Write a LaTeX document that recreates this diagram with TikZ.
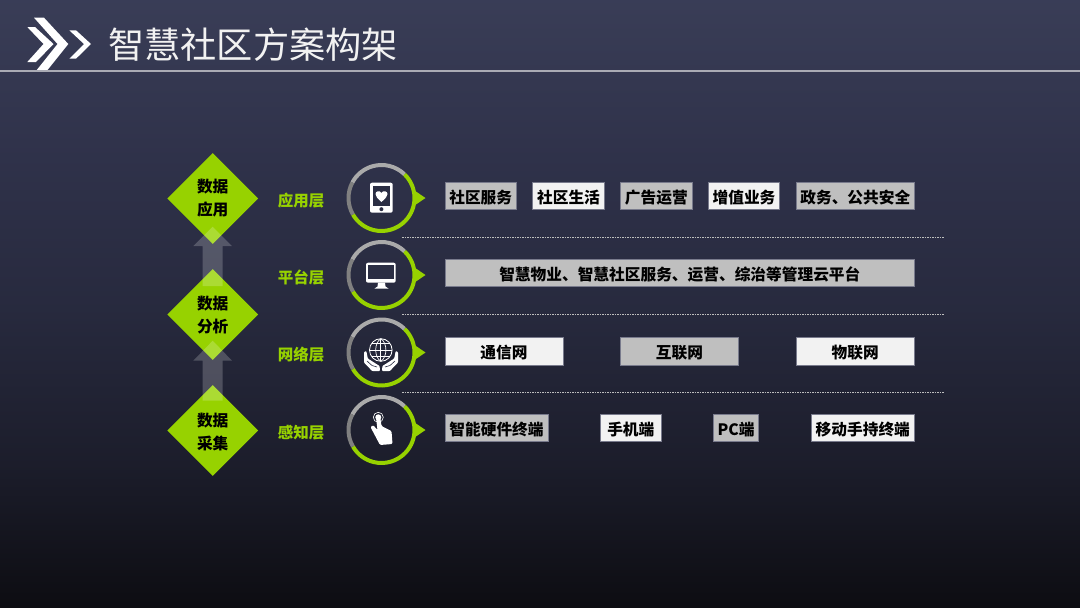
\documentclass[tikz,border=0pt]{standalone}
\usepackage{fontspec}
\setmainfont{Noto Sans CJK SC}
\usetikzlibrary{shapes.geometric}
\definecolor{limegreen}{RGB}{151,210,0}
\definecolor{boxgray}{RGB}{191,191,191}
\definecolor{boxwhite}{RGB}{242,242,242}
\definecolor{boxedge}{RGB}{120,122,140}
\definecolor{ringlight}{RGB}{170,170,170}
\definecolor{ringdark}{RGB}{128,128,128}
\definecolor{panel}{RGB}{43,46,68}
\pgfdeclareverticalshading{slidebg}{100bp}{
  rgb(0bp)=(0.05,0.05,0.07); rgb(25bp)=(0.05,0.05,0.07);
  rgb(37bp)=(0.11,0.115,0.17); rgb(50bp)=(0.155,0.165,0.245);
  rgb(62bp)=(0.185,0.195,0.29); rgb(75bp)=(0.225,0.24,0.34); rgb(100bp)=(0.225,0.24,0.34)}
\newcommand{\ringparts}[1]{
  \draw[ringpart, limegreen] (#1.46) arc[start angle=46, end angle=-150, radius=33pt];
  \draw[ringpart, ringlight] (#1.46) arc[start angle=46, end angle=152, radius=33pt];
  \draw[ringpart, ringdark] (#1.152) arc[start angle=152, end angle=210, radius=33pt];
  \fill[limegreen] ([yshift=7.5pt]#1.east) -- ([xshift=11pt]#1.east) -- ([yshift=-7.5pt]#1.east) -- cycle;
}
\begin{document}
\begin{tikzpicture}[x=1pt, y=-1pt,
  ringpart/.style={line width=4pt},
  ringbase/.style={circle, minimum size=66pt, inner sep=0pt, outer sep=0pt},
  datadiamond/.style={diamond, fill=limegreen, minimum width=91pt, minimum height=91pt, inner sep=0pt},
  datatext/.style={align=center, inner sep=0pt, text=black, font={\fontsize{15.7pt}{23pt}\selectfont\bfseries}},
  layername/.style={font={\fontsize{15.5pt}{18pt}\selectfont\bfseries}, text=limegreen},
  itembox/.style={draw=boxedge, line width=.6pt, minimum height=27.5pt, inner sep=0pt, text=black,
    text height=15pt, text depth=0pt, font={\fontsize{15.7pt}{18pt}\selectfont\bfseries}},
  graybox/.style={itembox, fill=boxgray},
  whitebox/.style={itembox, fill=boxwhite},
  divider/.style={draw=white!75!black, line width=.7pt, dash pattern=on 1.5pt off 1pt},
  uparrow/.style={fill=white, fill opacity=.2}]
\useasboundingbox (0,0) rectangle (1080,608);
\path[shading=slidebg] (0,0) rectangle (1080,608);

% header
\fill[white] (34,17.7) -- (44,17.7) -- (68.3,44) -- (46.7,71) -- (36,71) -- (57.5,44) -- cycle;
\fill[white] (27.3,27) -- (35,27) -- (53.5,44) -- (36,62) -- (27.3,62) -- (43.5,44) -- cycle;
\fill[white] (69.3,30.3) -- (76,30.3) -- (91,44) -- (76,58.7) -- (69.3,58.7) -- (84,44) -- cycle;
\draw[draw=white!60!panel, line width=1.3pt] (0,71) -- (1080,71);
\node[anchor=west, inner sep=0pt, text=white!95!black, font={\fontsize{36.2pt}{40pt}\selectfont}] (title) at (108,45) {智慧社区方案构架};

% data flow
\node[datadiamond] (apply) at (212.7,198.5) {};
\node[datadiamond] (analyse) at (212.7,314.5) {};
\node[datadiamond] (collect) at (212.7,430.5) {};
\node[datatext] (applytext) at (212.7,197.7) {数据\\应用};
\node[datatext] (analysetext) at (212.7,315) {数据\\分析};
\node[datatext] (collecttext) at (212.7,432.3) {数据\\采集};
\fill[uparrow] (212.7,226.7) -- (232,246) -- (222.7,246) -- (222.7,286) -- (202.7,286) -- (202.7,246) -- (193.3,246) -- cycle;
\fill[uparrow] (212.7,340.7) -- (232,360.7) -- (222.7,360.7) -- (222.7,400.7) -- (202.7,400.7) -- (202.7,360.7) -- (193.3,360.7) -- cycle;

% layers
\node[layername] (applylayer) at (301,200.2) {应用层};
\node[layername] (platformlayer) at (301,277.2) {平台层};
\node[layername] (networklayer) at (301,355) {网络层};
\node[layername] (sensinglayer) at (301,432.2) {感知层};
\node[ringbase] (ringapply) at (381.5,198) {};
\node[ringbase] (ringplatform) at (381.5,275) {};
\node[ringbase] (ringnetwork) at (381.5,352.5) {};
\node[ringbase] (ringsensing) at (381.5,430) {};
\ringparts{ringapply}
\ringparts{ringplatform}
\ringparts{ringnetwork}
\ringparts{ringsensing}

% phone icon
\fill[white, rounded corners=2pt] (370,182.7) rectangle (392.7,212.7);
\fill[panel] (373,186) rectangle (390,205.5);
\fill[panel] (381.4,209.2) circle (2pt);
\fill[white] (381.4,202) .. controls (377,198) and (375.5,196) .. (375.5,194) .. controls (375.5,191) and (380,190) .. (381.4,193) .. controls (383,190) and (387.5,191) .. (387.5,194) .. controls (387.5,196) and (386,198) .. (381.4,202) -- cycle;

% monitor icon
\fill[white, rounded corners=2pt] (366,262.7) rectangle (395.7,282.7);
\fill[panel] (368.2,265) rectangle (393.5,278.5);
\fill[white] (378,282.7) -- (385,282.7) -- (385.5,286.5) -- (388.5,288.5) -- (374.5,288.5) -- (377.5,286.5) -- cycle;

% globe and hands icon
\draw[white, line width=.8pt] (380.8,350) circle (11.3pt);
\draw[white, line width=.7pt] (380.8,338.7) -- (380.8,361.3);
\draw[white, line width=.7pt] (369.5,350) -- (392.1,350);
\draw[white, line width=.7pt] (380.8,338.7) .. controls (374,343) and (374,357) .. (380.8,361.3);
\draw[white, line width=.7pt] (380.8,338.7) .. controls (387.6,343) and (387.6,357) .. (380.8,361.3);
\draw[white, line width=.7pt] (371.5,343.5) -- (390.1,343.5);
\draw[white, line width=.7pt] (371.5,356.5) -- (390.1,356.5);
\fill[white, rounded corners=.8pt] (364,352) -- (366.3,351) -- (367.8,358.5) -- (374,362.5) -- (379.6,366) -- (380,371) -- (372,371) -- (368,366.5) -- (364,362.5) -- cycle;
\fill[white, rounded corners=.8pt] (398,352) -- (395.7,351) -- (394.2,358.5) -- (388,362.5) -- (382.4,366) -- (382,371) -- (390,371) -- (394,366.5) -- (398,362.5) -- cycle;
\draw[panel, line width=.6pt] (367,361) -- (372,365.5) -- (377,367);
\draw[panel, line width=.6pt] (395,361) -- (390,365.5) -- (385,367);

% touch icon
\draw[white, line width=.6pt] (378.3,417.3) circle (5pt);
\fill[white] (378.3,417.3) circle (3pt);
\fill[white, rounded corners=1.2pt] (376,417.5) -- (380.3,417.5) -- (381.5,426) -- (391.5,431) -- (392.5,444) -- (380,445) -- (370.5,427) -- (373,425) -- (377.5,430) -- cycle;

% application row
\node[graybox, minimum width=71.5pt] (service) at (480.7,195.7) {社区服务};
\node[whitebox, minimum width=71.5pt] (life) at (568.5,195.7) {社区生活};
\node[graybox, minimum width=71.5pt] (advert) at (656.3,195.7) {广告运营};
\node[whitebox, minimum width=71.5pt] (addvalue) at (744,195.7) {增值业务};
\node[graybox, minimum width=118.5pt] (publicsafety) at (855.3,195.7) {政务、公共安全};
\draw[divider] (402,237.5) -- (944,237.5);

% platform row
\node[graybox, minimum width=469.5pt] (cloud) at (679.8,272.8) {智慧物业、智慧社区服务、运营、综治等管理云平台};
\draw[divider] (402,314) -- (944,314);

% network row
\node[whitebox, minimum width=118pt] (telecom) at (504,351.3) {通信网};
\node[graybox, minimum width=118pt] (internet) at (679.5,351.3) {互联网};
\node[whitebox, minimum width=118pt] (iot) at (855.2,351.3) {物联网};
\draw[divider] (402,392.7) -- (944,392.7);

% sensing row
\node[graybox, minimum width=103pt] (hardware) at (496.5,427.8) {智能硬件终端};
\node[whitebox, minimum width=60.3pt] (phone) at (630.8,427.8) {手机端};
\node[graybox, minimum width=45.4pt] (pc) at (736,427.8) {PC端};
\node[whitebox, minimum width=103.5pt] (mobile) at (862.8,427.8) {移动手持终端};
\end{tikzpicture}
\end{document}
